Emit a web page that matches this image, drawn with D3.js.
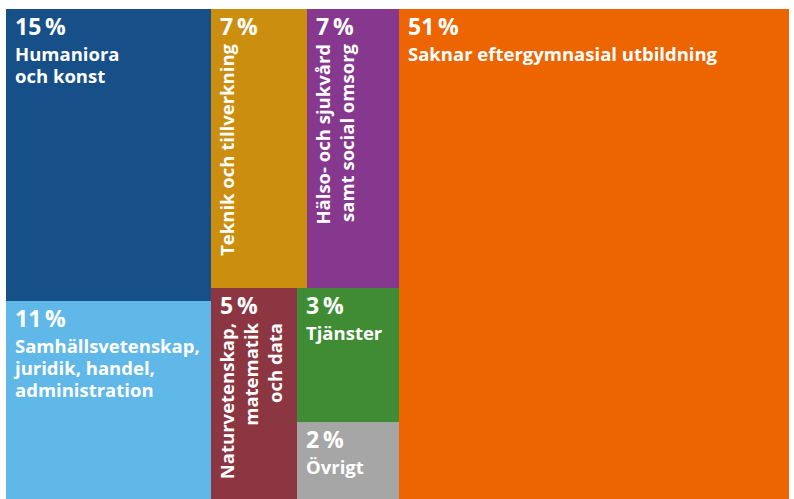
<!DOCTYPE html>
<html>
<head>
<meta charset="utf-8">
<script src="https://cdn.jsdelivr.net/npm/d3@7"></script>
<style>
  html, body { margin: 0; padding: 0; background: #ffffff; }
  svg { display: block; }
  text { font-family: "Open Sans", "Noto Sans", sans-serif; font-weight: 700; fill: #ffffff; }
</style>
</head>
<body>
<svg id="chart" width="794" height="499"></svg>
<script>
// ---- data ----
const categories = [
  "Humaniora och konst",
  "Samhällsvetenskap, juridik, handel, administration",
  "Teknik och tillverkning",
  "Hälso- och sjukvård samt social omsorg",
  "Naturvetenskap, matematik och data",
  "Tjänster",
  "Övrigt",
  "Saknar eftergymnasial utbildning"
];
// printed percentages
const percentLabels = [15, 11, 7, 7, 5, 3, 2, 51];
// cell shares
const cellShares = [15.60, 10.58, 6.98, 6.69, 4.73, 3.56, 2.05, 49.81];
// grouping of the cells in the tree (nesting path)
const groupPaths = [
  "left", "left",
  "middle/top", "middle/top",
  "middle/bottom", "middle/bottom/right", "middle/bottom/right",
  ""
];
// text lines shown in each cell
const labelLines = [
  ["Humaniora", "och konst"],
  ["Samhällsvetenskap,", "juridik, handel,", "administration"],
  ["Teknik och tillverkning"],
  ["Hälso- och sjukvård", "samt social omsorg"],
  ["Naturvetenskap,", "matematik", "och data"],
  ["Tjänster"],
  ["Övrigt"],
  ["Saknar eftergymnasial utbildning"]
];
const colors = ["#174f88", "#5fb8e8", "#cb8e0e", "#86388e", "#8b3641", "#3f8c34", "#a6a6a6", "#ec6500"];
const rotated = [false, false, true, true, true, false, false, false];

// ---- build hierarchy ----
const rootData = { name: "root", children: [] };
function getNode(path) {
  let node = rootData;
  if (!path) return node;
  path.split("/").forEach(p => {
    let c = node.children.find(d => d.name === p);
    if (!c) { c = { name: p, children: [] }; node.children.push(c); }
    node = c;
  });
  return node;
}
categories.forEach((c, i) => {
  getNode(groupPaths[i]).children.push({ name: c, index: i, value: cellShares[i] });
});

const marginLeft = 6, marginTop = 9, plotW = 783, plotH = 490;

const h = d3.hierarchy(rootData).sum(d => d.children ? 0 : d.value);
d3.treemap().tile(d3.treemapSliceDice).size([plotW, plotH]).round(false)(h);

const svg = d3.select("#chart");
const g = svg.append("g").attr("transform", `translate(${marginLeft},${marginTop})`);

const leaves = h.leaves();
const cell = g.selectAll("g.cell").data(leaves).join("g")
  .attr("class", "cell")
  .attr("transform", d => `translate(${d.x0},${d.y0})`);

cell.append("rect")
  .attr("width", d => d.x1 - d.x0)
  .attr("height", d => d.y1 - d.y0)
  .attr("fill", d => colors[d.data.index])
  .attr("shape-rendering", "crispEdges");

// percentage
cell.append("text")
  .attr("x", 9)
  .attr("y", 26)
  .style("font-size", "23px")
  .text(d => percentLabels[d.data.index] + "\u2009%");

// horizontal labels
cell.filter(d => !rotated[d.data.index]).append("text")
  .style("font-size", "18.5px")
  .selectAll("tspan")
  .data(d => labelLines[d.data.index])
  .join("tspan")
  .attr("x", 9)
  .attr("y", (l, i) => 52 + i * 22)
  .text(l => l);

// rotated labels (read bottom to top, aligned at the top)
cell.filter(d => rotated[d.data.index]).append("text")
  .style("font-size", "18.5px")
  .attr("text-anchor", "end")
  .attr("transform", "translate(23,35) rotate(-90)")
  .selectAll("tspan")
  .data(d => labelLines[d.data.index])
  .join("tspan")
  .attr("x", 0)
  .attr("y", (l, i) => i * 24)
  .text(l => l);
</script>
</body>
</html>
